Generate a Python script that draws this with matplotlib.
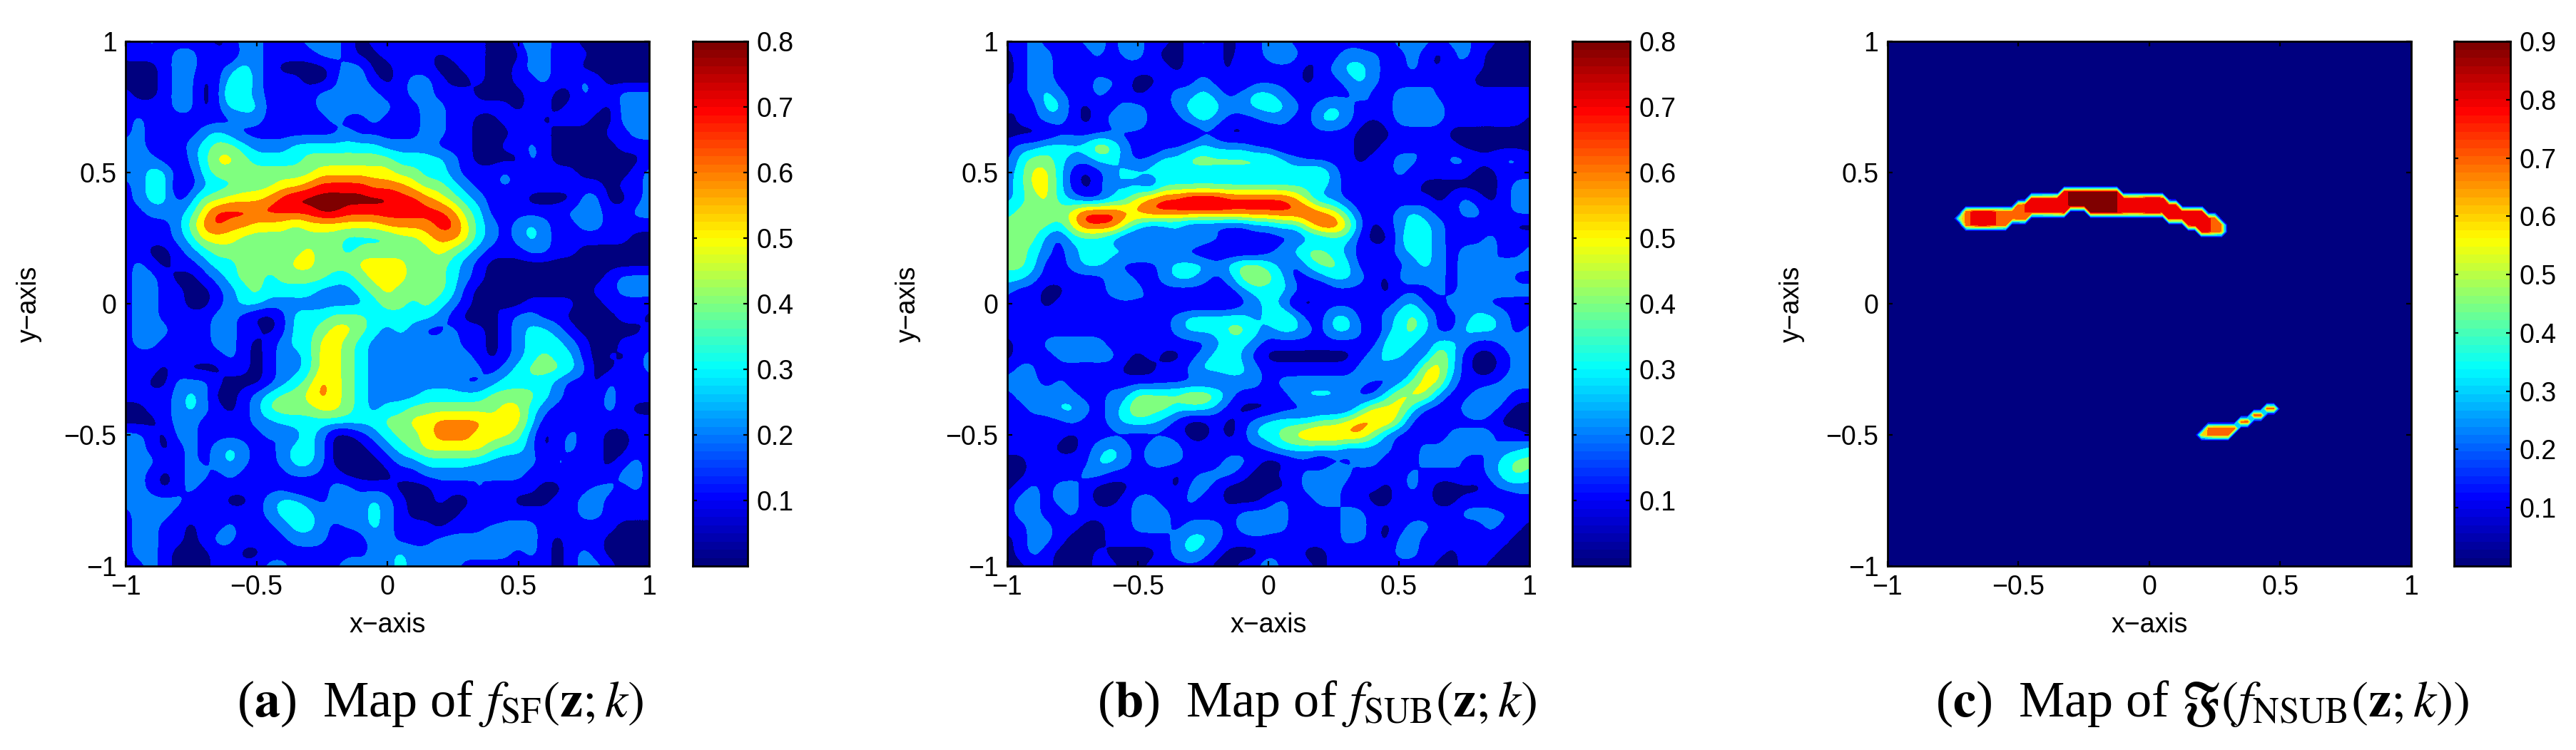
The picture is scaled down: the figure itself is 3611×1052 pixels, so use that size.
import matplotlib
matplotlib.use("Agg")
import matplotlib.pyplot as plt
from matplotlib.colors import BoundaryNorm, ListedColormap
import numpy as np

plt.rcParams["font.family"] = ["Liberation Sans", "DejaVu Sans"]
plt.rcParams["mathtext.fontset"] = "stix"

W, H = 3612, 1052

# each digit is the 0.1 wide contour band at that node
# rows run from y=1 down to y=-1, columns from x=-1 to x=1, step 0.05
sf_bands = [
    "1121111012 2111222101 2111211100 1321100000 0",
    "1111221102 2111122100 1111011100 0221110000 0",
    "0001221123 2100001220 0111001100 1221100000 0",
    "0001220134 2111001321 0122100100 1121121000 0",
    "1001220143 2111122222 1122111000 0110021122 2",
    "1111220133 3110122222 2112211111 0110111022 2",
    "1211111112 2111112112 1112211001 1101110022 2",
    "1211112321 1111111211 1112211000 1110000112 2",
    "2210123443 2223333333 2222111001 1210000011 1",
    "2221023554 3333444444 4333321000 0210000000 1",
    "2233113444 4444455555 5443321112 1111100001 2",
    "1233012334 4455677776 6654432112 1111111011 2",
    "1233124455 5678888888 8776543210 1000022001 2",
    "1122235777 7777788777 7777764311 1111222112 2",
    "1111246766 5554555555 6666775321 2321122111 1",
    "1111235554 4444444333 3445665321 2321111110 0",
    "1100123444 4444544344 4444543211 1221100000 0",
    "1210112334 4445544455 5544432100 0000000000 0",
    "1221001234 4344443345 5544432100 0000000122 2",
    "1221100123 4333322234 5444431000 0000001122 2",
    "1221100123 3222222223 4434321010 0111100111 1",
    "1221111221 0013334443 3333210001 2211000011 0",
    "1222111221 1013345543 2321121101 2332100000 1",
    "1221111221 0123355432 2222221101 2333210011 1",
    "1111111121 0122355432 2222222101 2343310101 2",
    "1210100011 0122355432 2222222212 3444320011 2",
    "1100222100 0123465432 2222221123 3332110210 1",
    "1111232001 2344565432 2223333344 4432111211 1",
    "0011232101 2444455432 3344444445 5321111210 0",
    "0001221111 2233333333 4455666655 5310121111 1",
    "2210221111 1212320012 3445666555 4201211001 1",
    "2210121232 1123320001 2345555543 3201211001 1",
    "2221121232 1123320000 1223333322 2212111012 1",
    "2210122121 1112211000 0112222122 2111210122 1",
    "2210121111 1110012211 1000111211 1100112212 1",
    "2222211100 1233212223 2100100111 0001122111 1",
    "1222111111 1233322223 2100001101 1111122111 1",
    "1221101121 1123321223 2111011122 2211111100 0",
    "1221101221 1112221012 2111222222 2210111000 0",
    "1221000110 0111110112 2322222222 1210121000 0",
    "1121000111 1221111322 2322221111 1110122100 0",
]

sub_bands = [
    "1121112212 2110121011 2211111101 2221221100 0",
    "0122101212 2100111011 2321012221 1210121000 0",
    "0122121101 1110111021 1110123321 1210211000 0",
    "0122101221 0011121101 1110112321 1112110000 0",
    "1123211211 0112232123 3211111211 2221111111 1",
    "1013310112 2112343223 3321232121 2232111112 1",
    "0112210123 3101232111 2211332101 2222111111 0",
    "0000111111 1111011001 0111111000 1111000000 0",
    "1223333542 1011232221 1001111001 1121100000 0",
    "1344322332 1233444444 4321111011 2211221122 1",
    "2355310123 3333333333 3334421111 2111110011 1",
    "2355310132 2133333333 3333321111 1100000012 2",
    "2345321123 5677888777 7764221110 1010121012 2",
    "3444457776 6777777777 7777653111 2321122112 2",
    "4444357775 3222111112 2335775201 2332111110 0",
    "4442133321 1123332111 1112233100 2432111211 1",
    "4432123333 3321100000 1234432111 2332122211 2",
    "4431123321 1123332344 3213443111 1232122122 2",
    "3321111122 1123321245 4311233210 2222122221 1",
    "2110011123 2111111123 3321011110 1112122222 2",
    "1010111111 1210000012 3200111111 2311222111 1",
    "2111101101 1112333332 3431133112 3431123321 1",
    "1101111111 1112333443 2332133202 3431133321 2",
    "0112222211 1111112332 1111111113 4313321122 2",
    "0111222221 0100123421 0000000123 3125310012 2",
    "1220111110 0011233332 1111111232 1255310012 2",
    "2221210111 1111111222 1222222211 2455211122 2",
    "1222221122 4444554211 1123332113 5552112321 1",
    "1122332123 5443332100 0111111355 5311123210 0",
    "1111121123 3321001012 3333445666 4111111100 0",
    "2101101111 1111001013 3456666642 1110222211 0",
    "1111001232 1232111111 2333332222 1122322122 3",
    "0011111332 1222101221 0011011221 1122211234 4",
    "0011112211 1110122210 0112232111 1211121234 3",
    "0121221000 1110221000 0012221010 1210000122 2",
    "1221221001 2211211000 1211221100 1110011101 1",
    "1221121111 2221111122 2211112211 1111122221 1",
    "1122110011 2221222123 2211112210 1221111211 0",
    "0122100011 1112332111 1111112210 2211111110 0",
    "0121000100 0012321000 1110011011 2211011100 0",
    "0011000110 0111110011 3111011111 1110011000 0",
]

# third map: zero everywhere but two thin arcs, one value per grid column
upper_x = [-0.725, -0.7, -0.675, -0.65, -0.625, -0.6, -0.575, -0.55, -0.525, -0.5, -0.475,
           -0.45, -0.425, -0.4, -0.375, -0.35, -0.325, -0.3, -0.275, -0.25, -0.225, -0.2,
           -0.175, -0.15, -0.125, -0.1, -0.075, -0.05, -0.025, 0.0, 0.025, 0.05, 0.075,
           0.1, 0.125, 0.15, 0.175, 0.2, 0.225, 0.25, 0.275]
upper_top = [0.325, 0.35, 0.35, 0.35, 0.35, 0.35, 0.35, 0.35, 0.35, 0.375, 0.375,
             0.4, 0.4, 0.4, 0.4, 0.4, 0.425, 0.425, 0.425, 0.425, 0.425, 0.425,
             0.425, 0.425, 0.425, 0.4, 0.4, 0.4, 0.4, 0.4, 0.4, 0.4, 0.375,
             0.375, 0.35, 0.35, 0.35, 0.35, 0.325, 0.325, 0.3]
upper_bottom = [0.325, 0.3, 0.3, 0.3, 0.3, 0.3, 0.3, 0.3, 0.325, 0.325, 0.325,
                0.35, 0.35, 0.35, 0.35, 0.35, 0.35, 0.375, 0.375, 0.375, 0.35, 0.35,
                0.35, 0.35, 0.35, 0.35, 0.35, 0.35, 0.35, 0.35, 0.35, 0.35, 0.325,
                0.325, 0.325, 0.3, 0.3, 0.275, 0.275, 0.275, 0.275]
upper_peak = [0.5, 0.76, 0.82, 0.84, 0.84, 0.82, 0.78, 0.76, 0.74, 0.76, 0.8,
              0.82, 0.83, 0.84, 0.85, 0.86, 0.88, 0.91, 0.91, 0.92, 0.92, 0.92,
              0.91, 0.91, 0.9, 0.87, 0.86, 0.86, 0.87, 0.89, 0.9, 0.86, 0.84,
              0.83, 0.82, 0.83, 0.85, 0.84, 0.82, 0.76, 0.7]
lower_x = [0.2, 0.225, 0.25, 0.275, 0.3, 0.325, 0.35, 0.375, 0.4, 0.425, 0.45, 0.475]
lower_top = [-0.5, -0.475, -0.475, -0.475, -0.475, -0.475, -0.45, -0.45, -0.425, -0.425, -0.4, -0.4]
lower_bottom = [-0.5, -0.5, -0.5, -0.5, -0.5, -0.475, -0.45, -0.45, -0.425, -0.425, -0.4, -0.4]
lower_peak = [0.6, 0.72, 0.76, 0.76, 0.76, 0.75, 0.74, 0.76, 0.75, 0.76, 0.75, 0.72]

axis_ticks = [-1, -0.5, 0, 0.5, 1]
axis_tick_labels = ["\u22121", "\u22120.5", "0", "0.5", "1"]
captions = [
    r"($\mathbf{a}$)  Map of $f_{\mathrm{SF}}(\mathbf{z};k)$",
    r"($\mathbf{b}$)  Map of $f_{\mathrm{SUB}}(\mathbf{z};k)$",
    r"($\mathbf{c}$)  Map of $\mathfrak{F}(f_{\mathrm{NSUB}}(\mathbf{z};k))$",
]


def matlab_jet(t):
    t = np.asarray(t, dtype=float)
    return np.clip(np.stack([1.5 - abs(4 * t - 3), 1.5 - abs(4 * t - 2), 1.5 - abs(4 * t - 1)], axis=-1), 0, 1)


def bands_to_values(rows):
    return (np.array([[int(c) for c in row.replace(" ", "")] for row in rows]) + 0.5) / 10


def arcs_to_values():
    grid = np.zeros((81, 81))
    for xs, tops, bottoms, peaks in [(upper_x, upper_top, upper_bottom, upper_peak),
                                     (lower_x, lower_top, lower_bottom, lower_peak)]:
        for x, top, bottom, peak in zip(xs, tops, bottoms, peaks):
            col = round((x + 1) / 0.025)
            grid[round((bottom + 1) / 0.025):round((top + 1) / 0.025) + 1, col] = peak
    return grid


def rect(x0, x1, y0=58, y1=794):
    return [x0 / W, 1 - y1 / H, (x1 - x0) / W, (y1 - y0) / H]


def style_axes(ax):
    for spine in ax.spines.values():
        spine.set_linewidth(2)


def draw_map(fig, z, vmax, box, cbar_box, ylabel_x, caption_x, caption, smooth):
    ax = fig.add_axes(rect(*box))
    levels = np.arange(0, vmax + 0.01, 0.1)
    colors = matlab_jet(levels / vmax)
    bounds = list(levels) + [1.5]
    n = z.shape[0]
    if smooth:
        half = 1 / (n - 1)
        ax.imshow(z, extent=[-1 - half, 1 + half, -1 - half, 1 + half], origin="upper", aspect="auto",
                  cmap=ListedColormap(colors), norm=BoundaryNorm(bounds, len(colors)),
                  interpolation="bicubic", interpolation_stage="data")
    else:
        xs = np.linspace(-1, 1, n)
        ax.contourf(xs, xs, z, levels=bounds, colors=colors)
    ax.set_xlim(-1, 1)
    ax.set_ylim(-1, 1)
    ax.set_xticks(axis_ticks, axis_tick_labels)
    ax.set_yticks(axis_ticks, axis_tick_labels)
    ax.tick_params(direction="in", length=5, width=1.6, top=True, right=True, labelsize=27, pad=9)
    ax.set_xlabel("x\u2212axis", fontsize=27, va="center")
    ax.xaxis.set_label_coords(0.5, -0.113)
    ax.set_ylabel("y\u2212axis", fontsize=27, va="center")
    ax.yaxis.set_label_coords((ylabel_x - box[0]) / (box[1] - box[0]), 0.5)
    style_axes(ax)

    cax = fig.add_axes(rect(*cbar_box))
    steps = np.linspace(0, 1, 64)
    cax.imshow(steps[:, None], origin="lower", aspect="auto", extent=[0, 1, 0, vmax],
               cmap=ListedColormap(matlab_jet(steps)))
    cax.set_xticks([])
    ticks = np.arange(1, round(vmax * 10) + 1) / 10
    cax.set_yticks(ticks, [f"{t:.1f}" for t in ticks])
    cax.yaxis.tick_right()
    cax.tick_params(direction="in", length=4, width=1.6, left=True, right=True, labelsize=27, pad=9)
    style_axes(cax)

    fig.text(caption_x / W, 1 - 1005 / H, caption, fontsize=52, family="Liberation Serif",
             ha="left", va="baseline")


fig = plt.figure(figsize=(W / 100, H / 100), dpi=100)

draw_map(fig, bands_to_values(sf_bands), 0.8, (176, 910), (971, 1048), 41, 332, captions[0], True)
draw_map(fig, bands_to_values(sub_bands), 0.8, (1412, 2144), (2204, 2285), 1273, 1538, captions[1], True)
draw_map(fig, arcs_to_values(), 0.9, (2646, 3380), (3440, 3519), 2512, 2713, captions[2], False)

fig.savefig("out.png", dpi=100)
